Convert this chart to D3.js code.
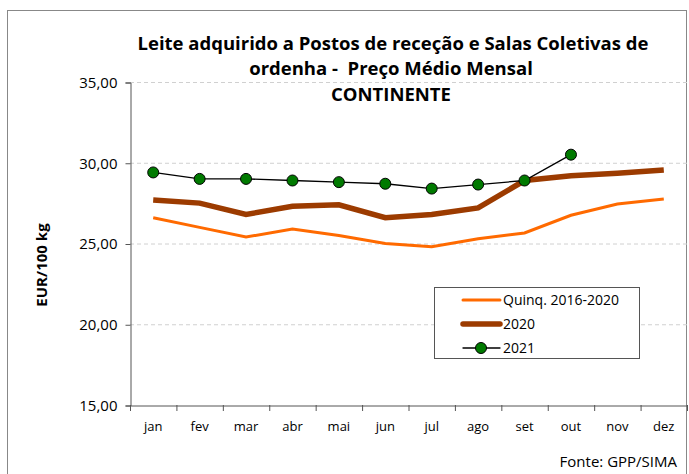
<!DOCTYPE html>
<html>
<head>
<meta charset="utf-8">
<script src="https://cdn.jsdelivr.net/npm/d3@7"></script>
<style>
  body { margin: 0; background: #fff; }
  text { font-family: "Open Sans", "Noto Sans", sans-serif; fill: #000; }
</style>
</head>
<body>
<svg width="689" height="474"></svg>
<script>
var months = ["jan","fev","mar","abr","mai","jun","jul","ago","set","out","nov","dez"];
var quinq = [26.6, 26.0, 25.4, 25.9, 25.5, 25.0, 24.8, 25.3, 25.65, 26.75, 27.45, 27.75];
var y2020 = [27.7, 27.5, 26.8, 27.3, 27.4, 26.6, 26.8, 27.2, 28.9, 29.2, 29.35, 29.55];
var y2021 = [29.4, 29.0, 29.0, 28.9, 28.8, 28.7, 28.4, 28.65, 28.9, 30.5];
var yTicks = [15, 20, 25, 30, 35];

var svg = d3.select("svg");

// chart border
svg.append("rect").attr("x", 7.5).attr("y", 10.5).attr("width", 679).attr("height", 470)
  .attr("fill", "none").attr("stroke", "#888").attr("stroke-width", 1);

var pLeft = 130, pRight = 687, pTop = 82, pBottom = 405;

var x = d3.scaleBand().domain(months).range([pLeft, pRight]);
var y = d3.scaleLinear().domain([15, 35]).range([pBottom, pTop]);
var fmt = function(d) { return d3.format(".2f")(d).replace(".", ","); };

// grid
svg.append("g").selectAll("line").data(yTicks.slice(1)).enter().append("line")
  .attr("x1", pLeft).attr("x2", pRight)
  .attr("y1", function(d) { return y(d) + 0.5; }).attr("y2", function(d) { return y(d) + 0.5; })
  .attr("stroke", "#d0d0d0").attr("stroke-dasharray", "4,3");

// y axis
var ya = svg.append("g").attr("transform", "translate(" + (pLeft + 0.5) + ",0.5)")
  .call(d3.axisLeft(y).tickValues(yTicks).tickFormat(fmt).tickSize(5).tickPadding(8));
ya.select(".domain").attr("stroke", "#555");
ya.selectAll(".tick line").attr("stroke", "#555");
ya.selectAll("text").style("font-size", "15px").style("font-family", "'Open Sans', sans-serif").attr("fill", "#000");

// x axis
var xa = svg.append("g").attr("transform", "translate(0," + (pBottom + 0.5) + ")")
  .call(d3.axisBottom(x).tickSize(0).tickPadding(16));
xa.select(".domain").attr("stroke", "#555");
xa.selectAll("text").style("font-size", "13px").style("font-family", "'Open Sans', sans-serif").attr("fill", "#000");
svg.append("g").selectAll("line").data(months.concat(["end"])).enter().append("line")
  .attr("x1", function(d, i) { return pLeft + i * x.bandwidth() + 0.5; })
  .attr("x2", function(d, i) { return pLeft + i * x.bandwidth() + 0.5; })
  .attr("y1", pBottom).attr("y2", pBottom + 6).attr("stroke", "#555");

var cx = function(d, i) { return x(months[i]) + x.bandwidth() / 2; };
var line = d3.line().x(cx).y(function(d) { return y(d); });

svg.append("path").datum(quinq).attr("d", line)
  .attr("fill", "none").attr("stroke", "#ff6a00").attr("stroke-width", 3);
svg.append("path").datum(y2020).attr("d", line)
  .attr("fill", "none").attr("stroke", "#9c3b00").attr("stroke-width", 5.5);
svg.append("path").datum(y2021).attr("d", line)
  .attr("fill", "none").attr("stroke", "#000").attr("stroke-width", 1.3);
svg.append("g").selectAll("circle").data(y2021).enter().append("circle")
  .attr("cx", cx).attr("cy", function(d) { return y(d); }).attr("r", 5.5)
  .attr("fill", "#007a00").attr("stroke", "#000").attr("stroke-width", 1);

// title
var title = svg.append("g").style("font-weight", "bold").style("font-size", "18.5px")
  .attr("text-anchor", "middle");
title.append("text").attr("x", 393).attr("y", 50).text("Leite adquirido a Postos de receção e Salas Coletivas de");
title.append("text").attr("x", 391).attr("y", 75).text("ordenha - \u00a0Preço Médio Mensal");
title.append("text").attr("x", 391).attr("y", 101).text("CONTINENTE");

// y title
svg.append("text").attr("transform", "translate(47,265) rotate(-90)")
  .attr("text-anchor", "middle").style("font-weight", "bold").style("font-size", "15px").text("EUR/100 kg");

// legend
var lg = svg.append("g");
lg.append("rect").attr("x", 434.5).attr("y", 287.5).attr("width", 205).attr("height", 71)
  .attr("fill", "#fff").attr("stroke", "#555");
var items = [
  { name: "Quinq. 2016-2020", color: "#ff6a00", w: 3, dot: false },
  { name: "2020", color: "#9c3b00", w: 5.5, dot: false },
  { name: "2021", color: "#000", w: 1.3, dot: true }
];
items.forEach(function(it, i) {
  var ly = 300 + i * 24;
  lg.append("line").attr("x1", 463).attr("x2", 500).attr("y1", ly).attr("y2", ly)
    .attr("stroke", it.color).attr("stroke-width", it.w).attr("stroke-linecap", "round");
  if (it.dot) lg.append("circle").attr("cx", 481).attr("cy", ly).attr("r", 5.5)
    .attr("fill", "#007a00").attr("stroke", "#000");
  lg.append("text").attr("x", 503).attr("y", ly + 5).style("font-size", "14px").text(it.name);
});

svg.append("text").attr("x", 677).attr("y", 467).attr("text-anchor", "end")
  .style("font-size", "15px").text("Fonte: GPP/SIMA");
</script>
</body>
</html>
